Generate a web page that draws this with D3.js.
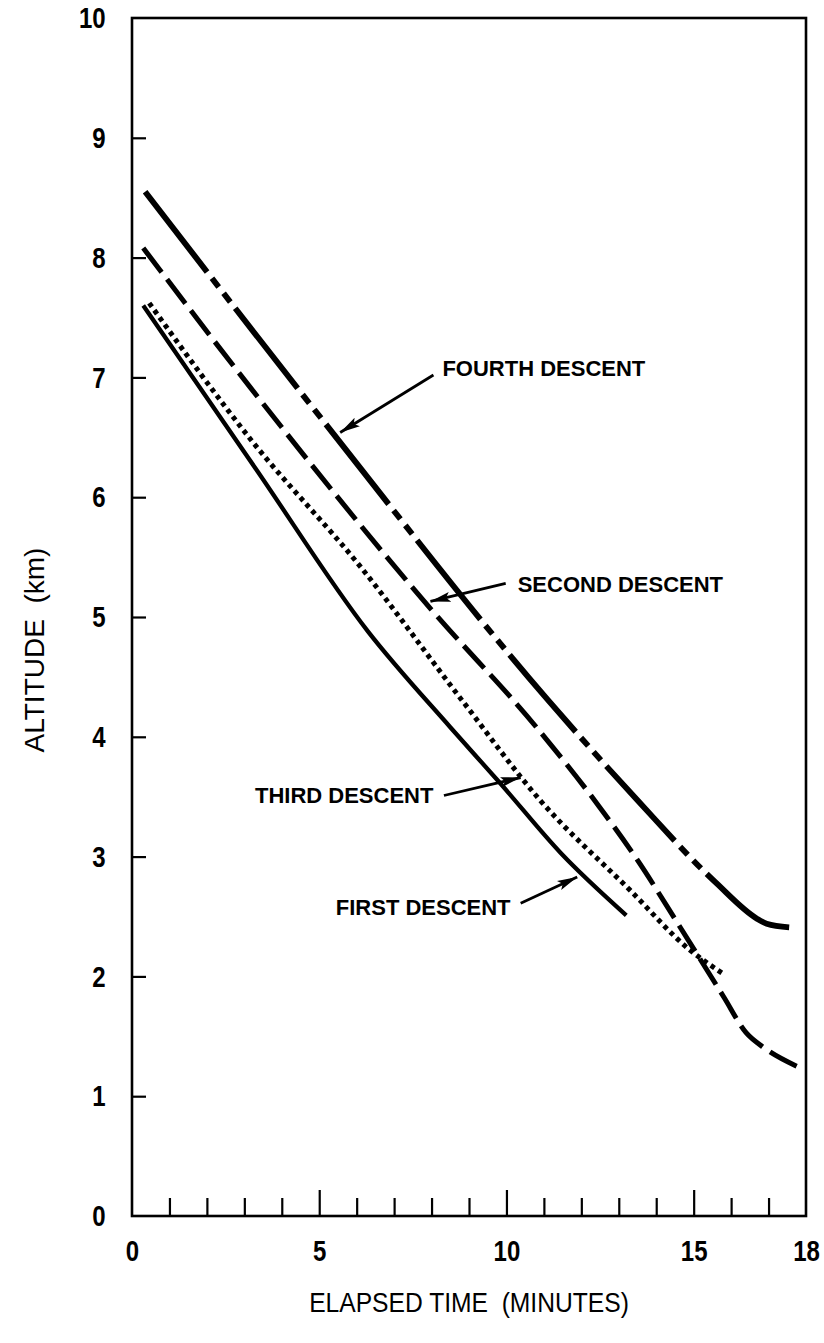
<!DOCTYPE html>
<html>
<head>
<meta charset="utf-8">
<script src="https://cdn.jsdelivr.net/npm/d3@7"></script>
<style>
  html, body { margin: 0; padding: 0; background: #fff; }
  svg { display: block; }
</style>
</head>
<body>
<svg id="chart" width="824" height="1343"></svg>
<script>
// ---- data -------------------------------------------------------------
// elapsed time (minutes) vs altitude (km)
const firstDescent = [
  [0.3, 7.6], [3.3, 6.24], [6.3, 4.88], [8.5, 4.08], [9.84, 3.61],
  [11.45, 3.03], [13.2, 2.51]
];
const secondDescent = [
  [0.3, 8.08], [3.2, 6.9], [8.0, 5.06], [10.8, 4.08], [12.4, 3.45],
  [13.5, 2.97], [14.6, 2.43], [15.8, 1.83], [16.4, 1.53], [16.9, 1.4], [17.75, 1.25]
];
const thirdDescent = [
  [0.46, 7.62], [3.2, 6.47], [6.1, 5.42], [8.8, 4.31], [10.9, 3.47],
  [13.3, 2.72], [14.9, 2.22], [15.75, 2.03]
];
const fourthDescent = [
  [0.35, 8.55], [5.1, 6.64], [11.1, 4.31], [13.5, 3.47], [15.6, 2.78],
  [16.7, 2.48], [16.95, 2.44], [17.55, 2.41]
];

const xMajorTicks = [0, 5, 10, 15, 18];
const xMinorTicks = d3.range(1, 18);
const yTicks = [0, 1, 2, 3, 4, 5, 6, 7, 8, 9, 10];

const seriesNames = ["FIRST DESCENT", "SECOND DESCENT", "THIRD DESCENT", "FOURTH DESCENT"];
// label anchor [t, v], text anchor, arrow tail [t, v], arrow tip [t, v]
const labelPos   = [[10.11, 2.51], [10.3, 5.21], [8.05, 3.45], [8.29, 7.01]];
const labelAlign = ["end", "start", "end", "start"];
const arrowTail  = [[10.38, 2.61], [9.98, 5.28], [8.33, 3.51], [8.05, 7.02]];
const arrowTip   = [[11.89, 2.83], [7.97, 5.13], [10.38, 3.66], [5.56, 6.54]];

// ---- layout -----------------------------------------------------------
const svg = d3.select("#chart");
const x = d3.scaleLinear().domain([0, 18]).range([132, 806]);
const y = d3.scaleLinear().domain([0, 10]).range([1216, 18]);

const font = "'Liberation Sans', Arial, sans-serif";
const condense = "scale(0.8,1)";

// frame
svg.append("rect")
  .attr("x", x(0)).attr("y", y(10))
  .attr("width", x(18) - x(0)).attr("height", y(0) - y(10))
  .attr("fill", "none").attr("stroke", "#000").attr("stroke-width", 2.6);

function styleTickText(sel) {
  sel.attr("font-family", font).attr("font-weight", "bold")
    .attr("font-size", 30).attr("fill", "#000")
    .attr("transform", condense);
}

// y axis: ticks point inward
const yAxis = svg.append("g")
  .attr("transform", `translate(${x(0)},0)`)
  .call(d3.axisLeft(y).tickValues(yTicks.slice(1, 10)).tickSizeInner(-14).tickSizeOuter(0).tickPadding(33).tickFormat(d3.format("d")));
yAxis.select(".domain").remove();
yAxis.selectAll(".tick line").attr("stroke", "#000").attr("stroke-width", 2.2);
yAxis.selectAll(".tick text").call(styleTickText);

// end labels 0 and 10 (their ticks coincide with the frame)
const yEnds = svg.append("g")
  .attr("transform", `translate(${x(0)},0)`)
  .call(d3.axisLeft(y).tickValues([0, 10]).tickSize(0).tickPadding(33).tickFormat(d3.format("d")));
yEnds.select(".domain").remove();
yEnds.selectAll(".tick text").call(styleTickText);

// x axis minor ticks
const xMinor = svg.append("g")
  .attr("transform", `translate(0,${y(0)})`)
  .call(d3.axisBottom(x).tickValues(xMinorTicks.filter(d => d % 5 !== 0)).tickSizeInner(-18).tickSizeOuter(0).tickFormat(""));
xMinor.select(".domain").remove();
xMinor.selectAll(".tick line").attr("stroke", "#000").attr("stroke-width", 2.2);

// x axis major ticks with labels
const xMajor = svg.append("g")
  .attr("transform", `translate(0,${y(0)})`)
  .call(d3.axisBottom(x).tickValues(xMajorTicks).tickSizeInner(-26).tickSizeOuter(0).tickPadding(24).tickFormat(d3.format("d")));
xMajor.select(".domain").remove();
xMajor.selectAll(".tick line")
  .attr("stroke", "#000").attr("stroke-width", 2.2)
  .attr("display", d => (d === 0 || d === 18) ? "none" : null);
xMajor.selectAll(".tick text").call(styleTickText);

// axis titles
svg.append("text")
  .attr("transform", `translate(${(x(0) + x(18)) / 2},1312) scale(0.88,1)`)
  .attr("text-anchor", "middle")
  .attr("font-family", font).attr("font-size", 28).attr("fill", "#000")
  .attr("xml:space", "preserve")
  .text("ELAPSED TIME  (MINUTES)");

svg.append("text")
  .attr("transform", `translate(44,650) rotate(-90)`)
  .attr("text-anchor", "middle")
  .attr("font-family", font).attr("font-size", 28).attr("fill", "#000")
  .attr("xml:space", "preserve")
  .text("ALTITUDE  (km)");

// ---- curves ------------------------------------------------------------
const line = d3.line()
  .x(d => x(d[0]))
  .y(d => y(d[1]))
  .curve(d3.curveMonotoneX);

// dash patterns: the first entry is the main dash, stretched so that the
// pattern starts and ends on a full main dash
const curveStyles = [
  { data: firstDescent,  width: 4.3, main: null, rest: [] },
  { data: secondDescent, width: 5.0, main: 31,   rest: [9] },
  { data: thirdDescent,  width: 5.0, main: 4.5,  rest: [4.3] },
  { data: fourthDescent, width: 5.8, main: 100,  rest: [8, 11, 8, 11, 8] }
];

const paths = svg.append("g")
  .selectAll("path")
  .data(curveStyles)
  .join("path")
  .attr("d", d => line(d.data))
  .attr("fill", "none")
  .attr("stroke", "#000")
  .attr("stroke-width", d => d.width)
  .attr("stroke-linecap", "butt")
  .attr("stroke-linejoin", "round");

paths.each(function(d) {
  if (d.main == null) return;
  const L = this.getTotalLength();
  const restSum = d3.sum(d.rest);
  const n = Math.max(1, Math.round((L - d.main) / (d.main + restSum)));
  const main = (L - n * restSum) / (n + 1);
  d3.select(this).attr("stroke-dasharray", [main, ...d.rest].join(","));
});

// ---- annotations -------------------------------------------------------
svg.append("defs").append("marker")
  .attr("id", "arrowhead")
  .attr("markerUnits", "userSpaceOnUse")
  .attr("viewBox", "0 0 20 11")
  .attr("refX", 20).attr("refY", 5.5)
  .attr("markerWidth", 20).attr("markerHeight", 11)
  .attr("orient", "auto")
  .append("path")
  .attr("d", "M0,0.5 L20,5.5 L0,10.5 L4,5.5 Z")
  .attr("fill", "#000");

const notes = svg.append("g");
seriesNames.forEach((name, i) => {
  notes.append("line")
    .attr("x1", x(arrowTail[i][0])).attr("y1", y(arrowTail[i][1]))
    .attr("x2", x(arrowTip[i][0])).attr("y2", y(arrowTip[i][1]))
    .attr("stroke", "#000").attr("stroke-width", 2.8)
    .attr("marker-end", "url(#arrowhead)");
  notes.append("text")
    .attr("x", x(labelPos[i][0])).attr("y", y(labelPos[i][1]))
    .attr("text-anchor", labelAlign[i])
    .attr("font-family", font).attr("font-weight", "bold")
    .attr("font-size", 22).attr("fill", "#000")
    .text(name);
});
</script>
</body>
</html>
